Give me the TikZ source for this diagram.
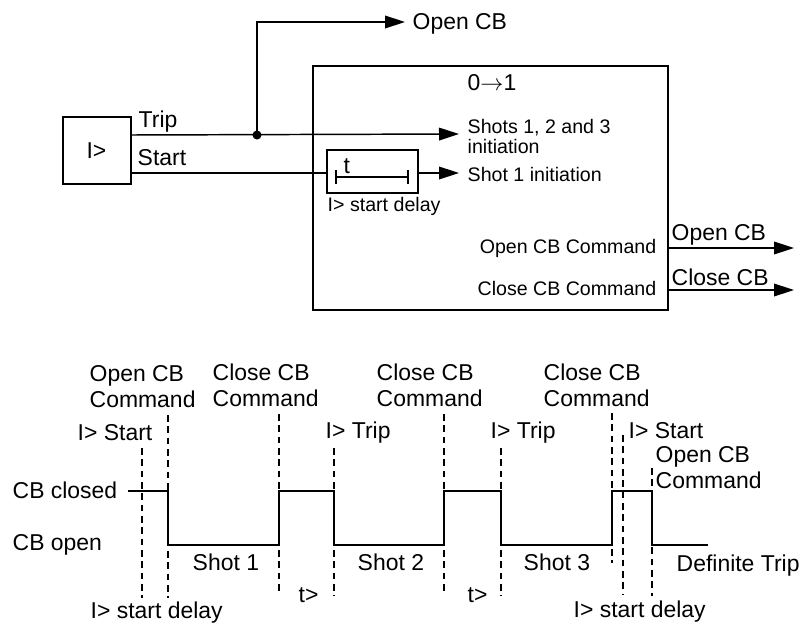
\documentclass[tikz,border=0pt]{standalone}
\usepackage{fontspec}
\setmainfont{Liberation Sans}
\usetikzlibrary{arrows.meta}
\begin{document}
\begin{tikzpicture}[x=0.75pt,y=-0.75pt,
  line width=1.1pt,
  big/.style={font=\fontsize{17.2}{19}\selectfont, inner sep=0pt},
  small/.style={font=\fontsize{14.7}{16}\selectfont, inner sep=0pt},
  two/.style={big, align=left, font=\fontsize{17.2}{19.5}\selectfont},
  arr/.style={-{Triangle[length=15pt,width=9.5pt]}},
  dsh/.style={dash pattern=on 5pt off 3.5pt, line width=0.8pt},
  wave/.style={line width=1.3pt},
  box/.style={draw, line width=1.1pt, inner sep=0pt}]
\useasboundingbox (0,0) rectangle (800,624);

% ---------- top block diagram ----------
\node[box, minimum width=51pt, minimum height=50.25pt] (ibox) at (97,150.5) {};
\node[big, anchor=base] (ilab) at (96.5,159) {I>};
\node[box, minimum width=266.25pt, minimum height=183pt] (big) at (490.5,188) {};
\node[box, minimum width=68.25pt, minimum height=32.25pt] (timer) at (372.5,171.5) {};

\coordinate (dot) at (257,135);
\coordinate (opentop) at (405,22);
\coordinate (shots) at (459,134);
\coordinate (shot1) at (459,173);
\coordinate (outopen) at (794,248);
\coordinate (outclose) at (794,290);

\draw[arr] (dot -| ibox.east) -- (shots);
\fill (dot) circle (3.4pt);
\draw[arr] (dot) |- (opentop);
\draw (ibox.east |- 0,173) -- (timer.west |- 0,173);
\draw[arr] (timer.east |- 0,173) -- (shot1);
\draw[arr] (big.east |- outopen) -- (outopen);
\draw[arr] (big.east |- outclose) -- (outclose);

% timer symbol
\draw[line width=0.8pt] (336,177) -- (408,177);
\draw[line width=0.8pt] (336,170) -- (336,184);
\draw[line width=0.8pt] (408,170) -- (408,184);
\node[big, anchor=base west] (tlab) at (343,174) {t};

\node[big, anchor=base west] (trip) at (138,128) {Trip};
\node[big, anchor=base west] (start) at (137,166) {Start};
\node[big, anchor=base west] (opencbtop) at (412,30) {Open CB};
\node[big, anchor=base west] (zo) at (467,91) {0$\rightarrow$1};
\node[small, anchor=base west] (shotsl) at (467,134) {Shots 1, 2 and 3};
\node[small, anchor=base west] (initl) at (467,154) {initiation};
\node[small, anchor=base west] (shot1l) at (467,182) {Shot 1 initiation};
\node[small, anchor=base west] (sdl) at (327,212) {I> start delay};
\node[small, anchor=base east] (occ) at (657,253) {Open CB Command};
\node[small, anchor=base east] (ccc) at (657,296) {Close CB Command};
\node[big, anchor=base west] (ocbo) at (671,240) {Open CB};
\node[big, anchor=base west] (ccbo) at (671,285) {Close CB};

% ---------- timing diagram ----------
\draw[dsh] (142,448) -- (142,598);
\draw[dsh] (168,415) -- (168,598);
\draw[dsh] (279,414) -- (279,595);
\draw[dsh] (334,448) -- (334,596);
\draw[dsh] (444,414) -- (444,595);
\draw[dsh] (501,448) -- (501,596);
\draw[dsh] (612,413) -- (612,563);
\draw[dsh] (623,435) -- (623,595);
\draw[dsh] (652,468) -- (652,596);

\draw[wave] (128,491) -- (168,491) -- (168,545) -- (279,545) -- (279,491)
  -- (334,491) -- (334,545) -- (444,545) -- (444,491) -- (501,491)
  -- (501,545) -- (612,545) -- (612,491) -- (652,491) -- (652,545) -- (708,545);

\node[two, anchor=base west] (l1) at (89,407) {Open CB\\Command};
\node[big, anchor=base west] (l2) at (77,440) {I> Start};
\node[big, anchor=base west] (l3) at (12,498) {CB closed};
\node[big, anchor=base west] (l4) at (12,550) {CB open};
\node[big, anchor=base west] (l5) at (90,618) {I> start delay};
\node[two, anchor=base west] (l6) at (212,406) {Close CB\\Command};
\node[big, anchor=base west] (l7) at (325,438) {I> Trip};
\node[big, anchor=base west] (l8) at (192,570) {Shot 1};
\node[big, anchor=base west] (l9) at (298,602) {t>};
\node[big, anchor=base west] (l10) at (357,570) {Shot 2};
\node[two, anchor=base west] (l11) at (376,406) {Close CB\\Command};
\node[big, anchor=base west] (l12) at (467,602) {t>};
\node[big, anchor=base west] (l13) at (490,438) {I> Trip};
\node[big, anchor=base west] (l14) at (523,570) {Shot 3};
\node[two, anchor=base west] (l15) at (543,406) {Close CB\\Command};
\node[big, anchor=base west] (l16) at (628,438) {I> Start};
\node[two, anchor=base west] (l17) at (655,488) {Open CB\\Command};
\node[big, anchor=base west] (l18) at (676,571) {Definite Trip};
\node[big, anchor=base west] (l19) at (573,617) {I> start delay};
\end{tikzpicture}
\end{document}
